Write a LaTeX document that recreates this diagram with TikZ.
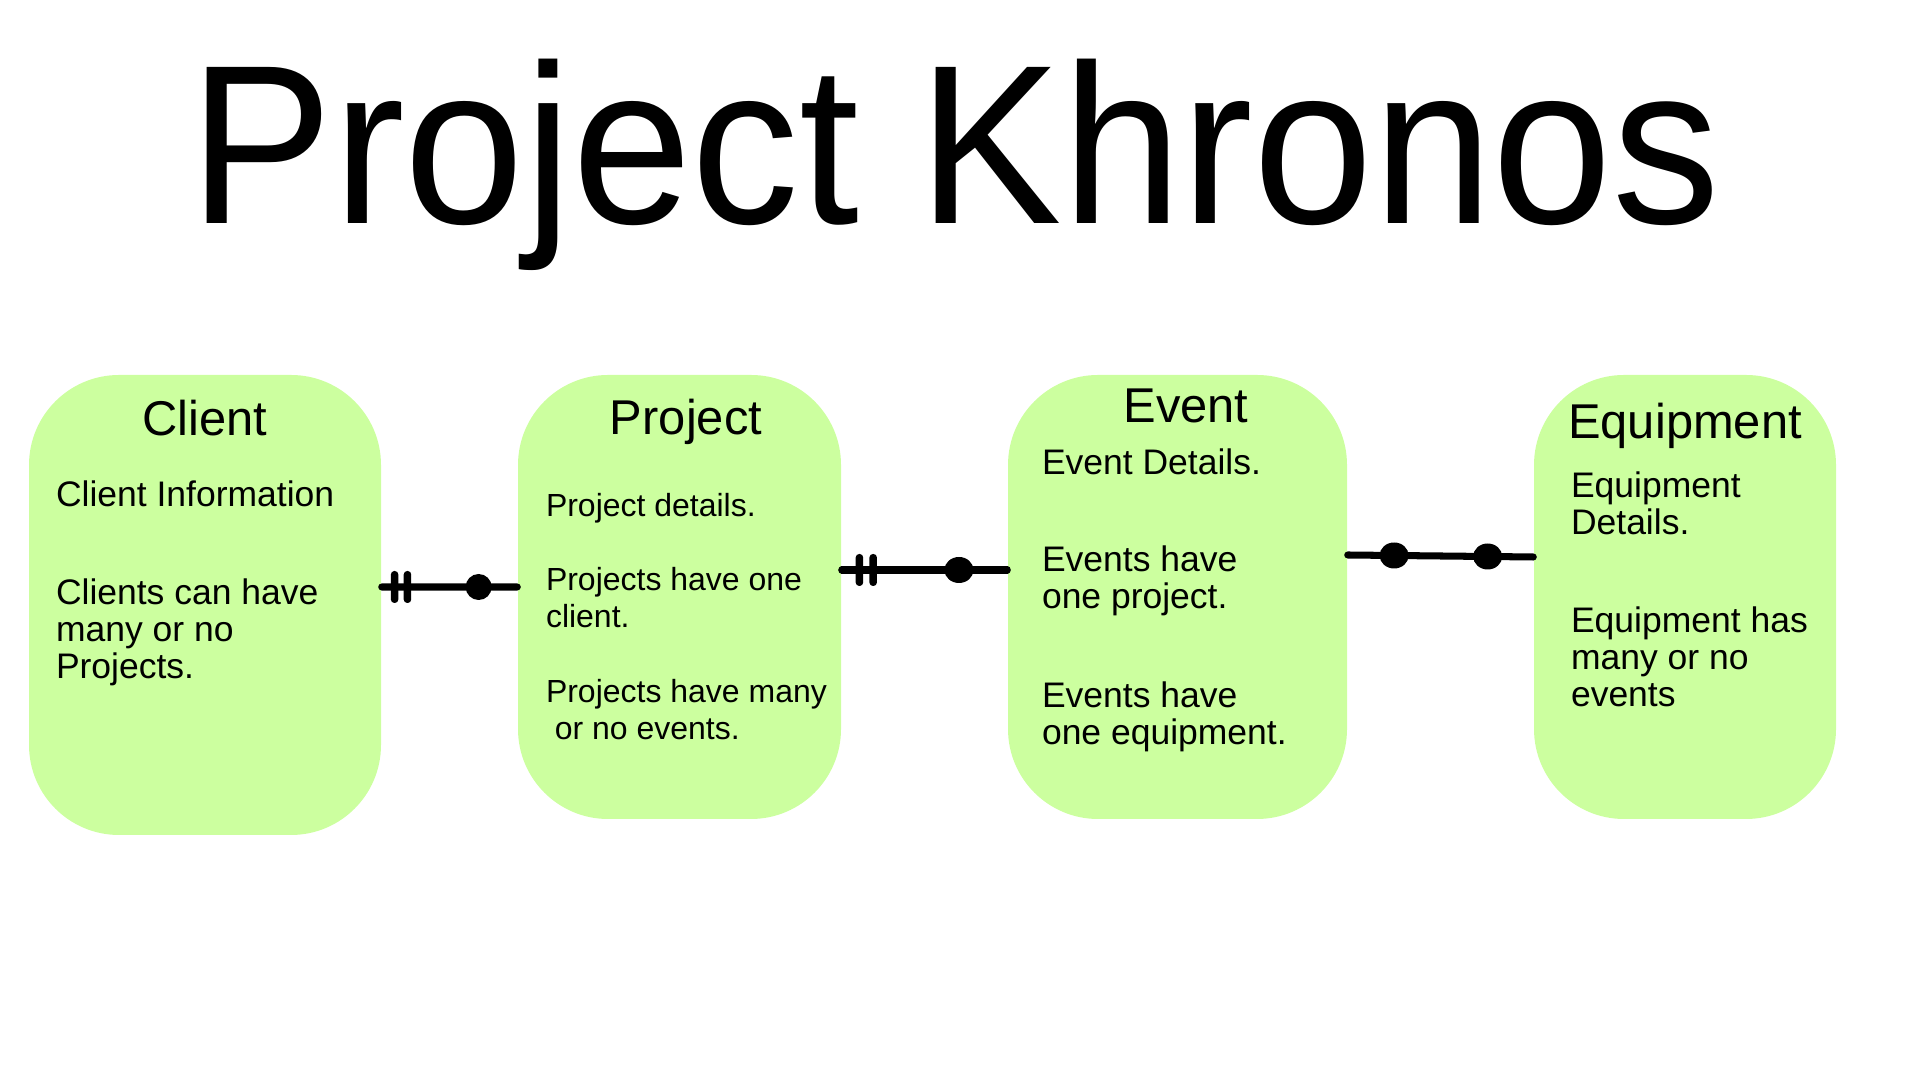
\documentclass[tikz,border=0pt]{standalone}
\usepackage{fontspec}
\setmainfont{Liberation Sans}
\usetikzlibrary{positioning, shapes.geometric}
\definecolor{entitygreen}{RGB}{204,255,159}

\begin{document}
\begin{tikzpicture}[
		entity/.style={rectangle, rounded corners=9mm, fill=entitygreen, inner sep=0pt},
		head/.style={anchor=base, inner sep=0pt, font=\fontsize{13.9}{16}\selectfont},
		info/.style={anchor=base west, align=left, inner sep=0pt, font=\fontsize{10.1}{10.5}\selectfont},
		rel/.style={line width=2pt, line cap=round},
		bar/.style={rectangle, fill=black, inner sep=0pt, minimum width=0.75mm, minimum height=3.2mm, rounded corners=0.35mm},
		dot/.style={ellipse, fill=black, inner sep=0pt, minimum width=2.9mm, minimum height=2.6mm}
		]
		\useasboundingbox (0,0) rectangle (19.2,10.8);
		% Title
		\node[anchor=base, inner sep=0pt, font=\fontsize{61.2}{74}\selectfont] (title) at (9.55,8.56) {\scalebox{1}[1.055]{Project Khronos}};
		
		% Entities
		\node[entity, minimum width=35.2mm, minimum height=46mm] at (2.05,4.75) (client) {};
		\node[entity, minimum width=32.3mm, minimum height=44.4mm] at (6.795,4.83) (project) {};
		\node[entity, minimum width=33.9mm, minimum height=44.4mm] at (11.775,4.83) (event) {};
		\node[entity, minimum width=30.2mm, minimum height=44.4mm] at (16.85,4.83) (equipment) {};
		
		% Headings
		\node[head] at ([yshift=-6.1mm]client.north) (clienthead) {Client};
		\node[head] at ([xshift=0.65mm, yshift=-6mm]project.north) (projecthead) {Project};
		\node[head] at ([xshift=0.85mm, yshift=-4.8mm]event.north) (eventhead) {Event};
		\node[head] at ([yshift=-6.4mm]equipment.north) (equipmenthead) {Equipment};
		
		% Attributes (base = last line)
		\node[info] at ([xshift=2.7mm, yshift=-13.2mm]client.north west) (clientinfo) {Client Information};
		\node[info] at ([xshift=2.7mm, yshift=-30.4mm]client.north west) (clientrule) {Clients can have\\many or no\\Projects.};
		
		\node[info, font=\fontsize{9.1}{10.5}\selectfont] at ([xshift=2.8mm, yshift=-14.2mm]project.north west) (projectinfo) {Project details.};
		\node[info, font=\fontsize{9.1}{10.5}\selectfont] at ([xshift=2.8mm, yshift=-25.3mm]project.north west) (projectrulea) {Projects have one\\client.};
		\node[info, font=\fontsize{9.1}{10.5}\selectfont] at ([xshift=2.8mm, yshift=-36.5mm]project.north west) (projectruleb) {Projects have many\\\ or no events.};
		
		\node[info] at ([xshift=3.4mm, yshift=-10mm]event.north west) (eventinfo) {Event Details.};
		\node[info] at ([xshift=3.4mm, yshift=-23.4mm]event.north west) (eventrulea) {Events have\\one project.};
		\node[info] at ([xshift=3.4mm, yshift=-37mm]event.north west) (eventruleb) {Events have\\one equipment.};
		
		\node[info] at ([xshift=3.7mm, yshift=-16mm]equipment.north west) (equipmentinfo) {Equipment\\Details.};
		\node[info] at ([xshift=3.7mm, yshift=-33.2mm]equipment.north west) (equipmentrule) {Equipment has\\many or no\\events};
		
		% Relationships
		\draw[rel] ([yshift=1.8mm]client.east) -- node[bar, pos=0.095] (cpbara) {} node[bar, pos=0.19] (cpbarb) {} node[dot, pos=0.715, minimum width=2.6mm] (cpdot) {} ([yshift=1mm]project.west);
		\draw[rel] ([yshift=2.7mm]project.east) -- node[bar, pos=0.107] (pebara) {} node[bar, pos=0.19] (pebarb) {} node[dot, pos=0.708] (pedot) {} ([yshift=2.7mm]event.west);
		\draw[rel] ([yshift=4.2mm]event.east) -- node[dot, pos=0.25] (eqdota) {} node[dot, pos=0.754] (eqdotb) {} ([yshift=4mm]equipment.west);
	\end{tikzpicture}
\end{document}
